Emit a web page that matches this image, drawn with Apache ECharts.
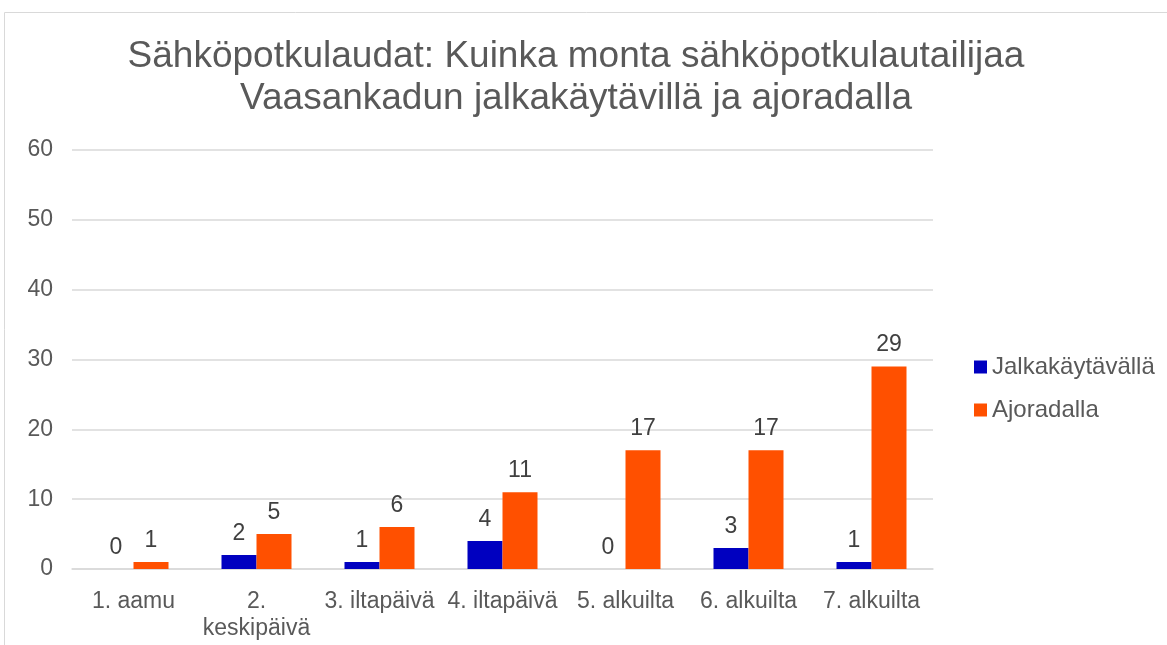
<!DOCTYPE html>
<html>
<head>
<meta charset="utf-8">
<script src="https://cdn.jsdelivr.net/npm/echarts@6/dist/echarts.min.js"></script>
<style>
    html, body { margin: 0; padding: 0; background: #fff; }
    #cn1 { width: 1167px; height: 645px; }
</style>
</head>
<body>
<div id="cn1"></div>
<script>
'use strict';

// data
const arrCategory = ['1. aamu', '2.\nkeskipäivä', '3. iltapäivä', '4. iltapäivä', '5. alkuilta', '6. alkuilta', '7. alkuilta'];
const arrJalka = [0, 2, 1, 4, 0, 3, 1];
const arrAjo = [1, 5, 6, 11, 17, 17, 29];
const arrLegend = ['Jalkakäytävällä', 'Ajoradalla'];

const strFont = '"Liberation Sans", Arial, sans-serif';

const echartsBar = echarts.init(cn1);

const labelStyle = {
    show: true,
    position: 'top',
    distance: 10,
    color: '#404040',
    fontSize: 23,
    fontFamily: strFont
};

const optionBar = {
    animation: false,
    textStyle: { fontFamily: strFont },
    title: {
        text: 'Sähköpotkulaudat: Kuinka monta sähköpotkulautailijaa\nVaasankadun jalkakäytävillä ja ajoradalla',
        left: 576,
        top: 36,
        padding: 0,
        textAlign: 'center',
        textStyle: {
            color: '#595959',
            fontSize: 37,
            fontWeight: 'normal',
            lineHeight: 42,
            fontFamily: strFont
        }
    },
    graphic: [{
        type: 'rect',
        shape: { x: 4.5, y: 12.5, width: 1200, height: 700 },
        style: { fill: 'none', stroke: '#d9d9d9', lineWidth: 1 },
        silent: true
    }],
    legend: {
        data: arrLegend,
        orient: 'vertical',
        left: 974,
        top: 355,
        padding: 0,
        itemWidth: 13,
        itemHeight: 13,
        itemGap: 19,
        icon: 'rect',
        textStyle: {
            color: '#595959',
            fontSize: 24,
            lineHeight: 24,
            fontFamily: strFont
        }
    },
    grid: {
        left: 72,
        right: 234,
        top: 150,
        bottom: 76,
        containLabel: false
    },
    xAxis: [{
        type: 'category',
        data: arrCategory,
        axisLine: { lineStyle: { color: '#d9d9d9', width: 1.5 } },
        axisTick: { show: false },
        axisLabel: {
            interval: 0,
            margin: 19,
            color: '#595959',
            fontSize: 23,
            lineHeight: 27,
            fontFamily: strFont
        }
    }],
    yAxis: [{
        type: 'value',
        min: 0,
        max: 60,
        interval: 10,
        axisLine: { show: false },
        axisTick: { show: false },
        splitLine: { lineStyle: { color: '#d9d9d9', width: 1.5 } },
        axisLabel: {
            margin: 19,
            color: '#595959',
            fontSize: 23,
            fontFamily: strFont
        }
    }],
    series: [{
        name: arrLegend[0],
        type: 'bar',
        data: arrJalka,
        barWidth: 35,
        barGap: '0%',
        itemStyle: { color: '#0000c0' },
        label: labelStyle
    }, {
        name: arrLegend[1],
        type: 'bar',
        data: arrAjo,
        barWidth: 35,
        barGap: '0%',
        itemStyle: { color: '#ff5000' },
        label: labelStyle
    }]
};

echartsBar.setOption(optionBar);
</script>
</body>
</html>
